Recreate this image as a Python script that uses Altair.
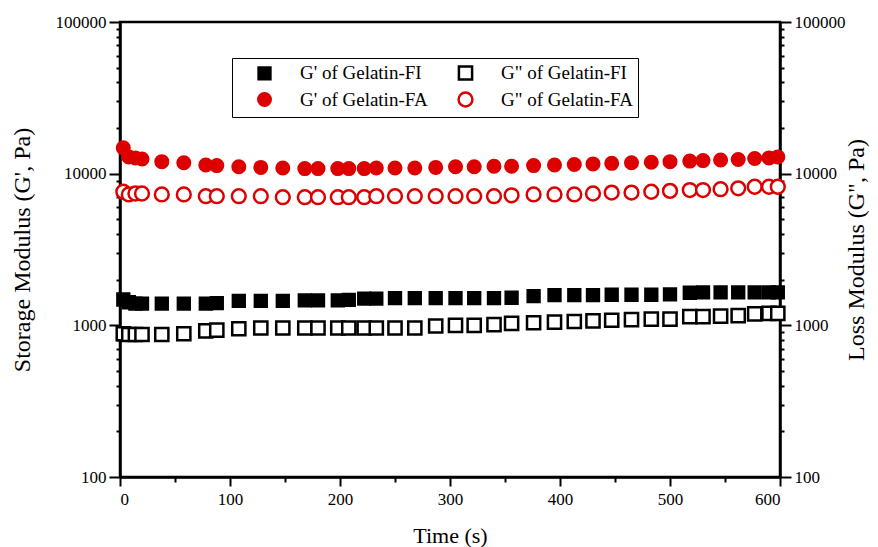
import altair as alt
import pandas as pd

times = [3, 8, 14, 20, 38, 58, 78, 88, 108, 128, 148, 168, 180, 198, 208, 222, 233, 250, 268, 287,
         305, 322, 340, 356, 376, 395, 413, 430, 447, 465, 483, 500, 518, 530, 546, 562, 577, 590, 598]

g1_fi = [1480, 1420, 1390, 1390, 1390, 1390, 1390, 1400, 1450, 1450, 1450, 1460, 1460, 1460, 1470, 1500, 1500, 1510, 1510, 1510,
         1510, 1510, 1510, 1520, 1560, 1580, 1580, 1580, 1590, 1590, 1590, 1600, 1640, 1650, 1650, 1650, 1650, 1650, 1650]
g2_fi = [880, 870, 870, 870, 870, 880, 920, 930, 950, 960, 960, 960, 960, 960, 960, 960, 960, 960, 960, 990,
         1000, 1000, 1010, 1030, 1040, 1050, 1060, 1070, 1080, 1090, 1100, 1100, 1140, 1140, 1150, 1160, 1190, 1200, 1200]
g1_fa = [14800, 12900, 12700, 12500, 12000, 11800, 11400, 11300, 11100, 11000, 10900, 10800, 10800, 10800, 10800, 10800, 10900, 10900, 10900, 11000,
         11100, 11100, 11200, 11200, 11300, 11400, 11500, 11600, 11700, 11800, 11900, 12000, 12100, 12200, 12300, 12400, 12600, 12700, 12900]
g2_fa = [7600, 7300, 7400, 7400, 7300, 7300, 7100, 7100, 7100, 7100, 7000, 7000, 7000, 7000, 7000, 7000, 7100, 7100, 7100, 7100,
         7100, 7100, 7100, 7200, 7300, 7300, 7300, 7400, 7500, 7500, 7600, 7700, 7800, 7800, 7900, 8000, 8200, 8200, 8200]

# legend order (column-major in a 2-column legend)
series_names = ["G' of Gelatin-FI", "G' of Gelatin-FA", 'G" of Gelatin-FI', 'G" of Gelatin-FA']
series_values = [g1_fi, g1_fa, g2_fi, g2_fa]
series_shapes = ["square", "circle", "square", "circle"]
series_fills = ["black", "#dd0000", "white", "white"]
series_strokes = ["black", "#dd0000", "black", "#dd0000"]
series_sizes = [140, 190, 110, 150]

x_major = [0, 100, 200, 300, 400, 500, 600]
x_minor = [50, 150, 250, 350, 450, 550]
y_major = [100, 1000, 10000, 100000]
y_minor = [m * d for d in (100, 1000, 10000) for m in range(2, 10)]

rows = []
for name, vals in zip(series_names, series_values):
    for t, v in zip(times, vals):
        rows.append({"t": t, "v": v, "series": name})
df = pd.DataFrame(rows)

FONT = "Liberation Serif"

xscale = alt.Scale(domain=[0, 600], nice=False, zero=False)
yscale = alt.Scale(type="log", domain=[100, 100000], nice=False)

base = alt.Chart(df)

legend = alt.Legend(title=None, orient="none", legendX=112, legendY=36,
                    columns=2, strokeColor="black", fillColor="white",
                    padding=5, symbolOffset=18, labelFont=FONT, labelFontSize=19,
                    labelOffset=26, columnPadding=10, rowPadding=2,
                    symbolStrokeWidth=2.5, labelColor="black")

points = base.mark_point(strokeWidth=2.5, opacity=1).encode(
    x=alt.X("t:Q", scale=xscale,
            axis=alt.Axis(values=x_major, title="Time (s)", orient="bottom", tickSize=9,
                          labelPadding=5, titlePadding=18, titleFontSize=22, labelFontSize=17,
                          titleFontWeight="normal", grid=False)),
    y=alt.Y("v:Q", scale=yscale,
            axis=alt.Axis(values=y_major, format="d", orient="left", title="Storage Modulus (G', Pa)",
                          tickSize=11, labelPadding=3, titlePadding=21, titleFontSize=24,
                          labelFontSize=17, titleFontWeight="normal", grid=False)),
    shape=alt.Shape("series:N", scale=alt.Scale(domain=series_names, range=series_shapes), legend=legend),
    fill=alt.Fill("series:N", scale=alt.Scale(domain=series_names, range=series_fills), legend=legend),
    stroke=alt.Stroke("series:N", scale=alt.Scale(domain=series_names, range=series_strokes), legend=legend),
    size=alt.Size("series:N", scale=alt.Scale(domain=series_names, range=series_sizes), legend=legend),
)

right = base.mark_point(opacity=0).encode(
    x=alt.X("t:Q", scale=xscale,
            axis=alt.Axis(values=x_minor, labels=False, title=None, domain=False,
                          tickSize=5, orient="bottom", grid=False)),
    y=alt.Y("v:Q", scale=yscale,
            axis=alt.Axis(values=y_major, format="d", orient="right", title='Loss Modulus (G", Pa)',
                          tickSize=11, labelPadding=3, titlePadding=23, titleFontSize=24,
                          titleAngle=270, labelFontSize=17, titleFontWeight="normal", grid=False)),
)

left_minor = base.mark_point(opacity=0).encode(
    x=alt.X("t:Q", scale=xscale, axis=None),
    y=alt.Y("v:Q", scale=yscale,
            axis=alt.Axis(values=y_minor, labels=False, title=None, domain=False,
                          tickSize=4, orient="left", grid=False)),
)

right_minor = base.mark_point(opacity=0).encode(
    x=alt.X("t:Q", scale=xscale, axis=None),
    y=alt.Y("v:Q", scale=yscale,
            axis=alt.Axis(values=y_minor, labels=False, title=None, domain=False,
                          tickSize=4, orient="right", grid=False)),
)

chart = (
    alt.layer(points, right, left_minor, right_minor)
    .resolve_scale(x="shared", y="shared")
    .resolve_axis(x="independent", y="independent")
    .properties(width=660, height=455, background="white",
                autosize=alt.AutoSizeParams(type="none"),
                padding={"left": 112, "top": 14, "right": 90, "bottom": 80})
    .configure_view(stroke="black", strokeWidth=2.5)
    .configure_axis(domainColor="black", domainWidth=2.5, tickColor="black", tickWidth=2,
                    labelFont=FONT, titleFont=FONT, labelColor="black", titleColor="black")
)

chart.save("out.html", embed_options={"renderer": "svg", "actions": False})
